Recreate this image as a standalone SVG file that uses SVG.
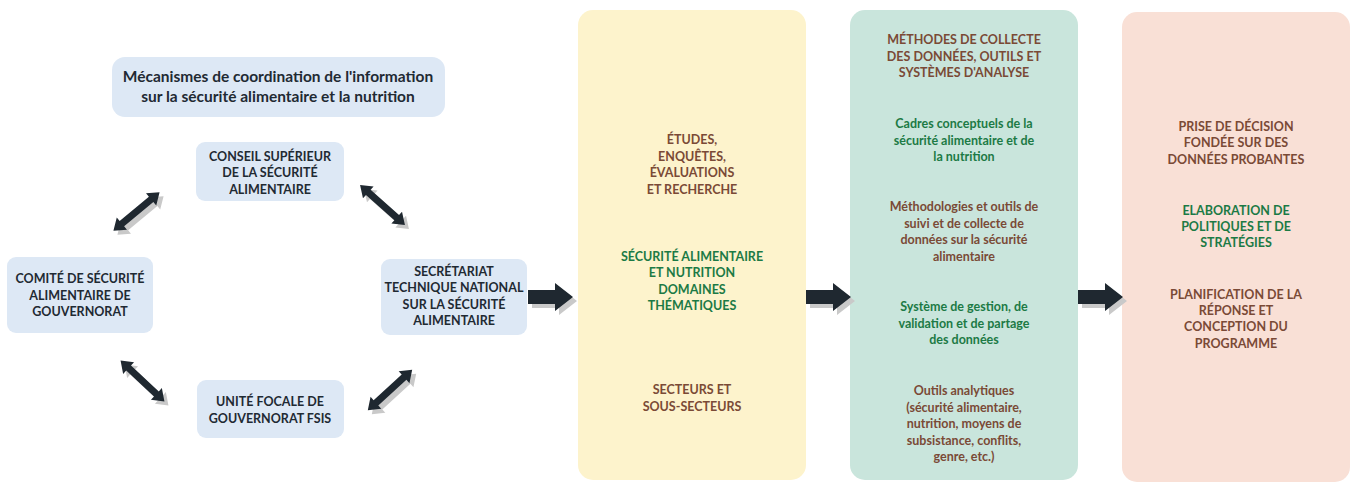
<svg xmlns="http://www.w3.org/2000/svg" width="1355" height="482" viewBox="0 0 1355 482">
<defs>
<style>
text{font-family:Lato,"Source Sans Pro","Liberation Sans",sans-serif;font-weight:bold;text-anchor:middle;font-size:12.5px}
.tt{font-size:15.5px}
.nb{fill:#dde8f5}
.nt{fill:#1f2a33}
.br{fill:#7a4a36}
.gr{fill:#1c7a45}
.ar{fill:#1f2830}
.sh{fill:#c9c9c9}
</style>
<path id="dbl" d="M-30,0 L-19,-8 L-19,-3.5 L19,-3.5 L19,-8 L30,0 L19,8 L19,3.5 L-19,3.5 L-19,8 Z"/>
<path id="big" d="M0,-7 L27,-7 L27,-14 L45,0 L27,14 L27,7 L0,7 Z"/>
</defs>
<rect width="1355" height="482" fill="#ffffff"/>

<g id="title">
<rect class="nb" x="112" y="57" width="333" height="60" rx="13"/>
<text class="nt tt" x="278" y="82">Mécanismes de coordination de l'information</text>
<text class="nt tt" x="278" y="102">sur la sécurité alimentaire et la nutrition</text>
</g>

<g id="conseil">
<rect class="nb" x="196" y="142" width="148" height="59" rx="9"/>
<text class="nt" x="270" y="161">CONSEIL SUPÉRIEUR</text>
<text class="nt" x="270" y="177">DE LA SÉCURITÉ</text>
<text class="nt" x="270" y="194">ALIMENTAIRE</text>
</g>

<g id="comite">
<rect class="nb" x="7" y="257" width="146" height="76" rx="9"/>
<text class="nt" x="80" y="283">COMITÉ DE SÉCURITÉ</text>
<text class="nt" x="80" y="300">ALIMENTAIRE DE</text>
<text class="nt" x="80" y="316">GOUVERNORAT</text>
</g>

<g id="secretariat">
<rect class="nb" x="381" y="259" width="146" height="76" rx="9"/>
<text class="nt" x="454" y="276">SECRÉTARIAT</text>
<text class="nt" x="454" y="292">TECHNIQUE NATIONAL</text>
<text class="nt" x="454" y="309">SUR LA SÉCURITÉ</text>
<text class="nt" x="454" y="325">ALIMENTAIRE</text>
</g>

<g id="unite">
<rect class="nb" x="197" y="380" width="147" height="58" rx="9"/>
<text class="nt" x="270" y="406">UNITÉ FOCALE DE</text>
<text class="nt" x="270" y="423">GOUVERNORAT FSIS</text>
</g>

<g id="etudes">
<rect x="578" y="10" width="228" height="470" rx="15" fill="#fdf3cc"/>
<text class="br" x="692" y="144">ÉTUDES,</text>
<text class="br" x="692" y="161">ENQUÊTES,</text>
<text class="br" x="692" y="177">ÉVALUATIONS</text>
<text class="br" x="692" y="194">ET RECHERCHE</text>
<text class="gr" x="692" y="261">SÉCURITÉ ALIMENTAIRE</text>
<text class="gr" x="692" y="277">ET NUTRITION</text>
<text class="gr" x="692" y="294">DOMAINES</text>
<text class="gr" x="692" y="310">THÉMATIQUES</text>
<text class="br" x="692" y="394">SECTEURS ET</text>
<text class="br" x="692" y="411">SOUS-SECTEURS</text>
</g>

<g id="methodes">
<rect x="850" y="10" width="228" height="470" rx="15" fill="#c9e5dc"/>
<text class="br" x="964" y="44">MÉTHODES DE COLLECTE</text>
<text class="br" x="964" y="61">DES DONNÉES, OUTILS ET</text>
<text class="br" x="964" y="77">SYSTÈMES D'ANALYSE</text>
<text class="gr" x="964" y="128">Cadres conceptuels de la</text>
<text class="gr" x="964" y="145">sécurité alimentaire et de</text>
<text class="gr" x="964" y="161">la nutrition</text>
<text class="br" x="964" y="211">Méthodologies et outils de</text>
<text class="br" x="964" y="228">suivi et de collecte de</text>
<text class="br" x="964" y="244">données sur la sécurité</text>
<text class="br" x="964" y="261">alimentaire</text>
<text class="gr" x="964" y="311">Système de gestion, de</text>
<text class="gr" x="964" y="328">validation et de partage</text>
<text class="gr" x="964" y="344">des données</text>
<text class="br" x="964" y="395">Outils analytiques</text>
<text class="br" x="964" y="412">(sécurité alimentaire,</text>
<text class="br" x="964" y="428">nutrition, moyens de</text>
<text class="br" x="964" y="445">subsistance, conflits,</text>
<text class="br" x="964" y="461">genre, etc.)</text>
</g>

<g id="decision">
<rect x="1122" y="12" width="228" height="470" rx="15" fill="#f9e0d6"/>
<text class="br" x="1236" y="131">PRISE DE DÉCISION</text>
<text class="br" x="1236" y="147">FONDÉE SUR DES</text>
<text class="br" x="1236" y="164">DONNÉES PROBANTES</text>
<text class="gr" x="1236" y="215">ELABORATION DE</text>
<text class="gr" x="1236" y="231">POLITIQUES ET DE</text>
<text class="gr" x="1236" y="247">STRATÉGIES</text>
<text class="br" x="1236" y="299">PLANIFICATION DE LA</text>
<text class="br" x="1236" y="315">RÉPONSE ET</text>
<text class="br" x="1236" y="331">CONCEPTION DU</text>
<text class="br" x="1236" y="348">PROGRAMME</text>
</g>

<g id="connectors">
<g transform="translate(4,4)">
<use href="#dbl" class="sh" transform="translate(136.5,211.5) rotate(-39.7)"/>
<use href="#dbl" class="sh" transform="translate(382.5,205) rotate(41.6)"/>
<use href="#dbl" class="sh" transform="translate(142.5,381) rotate(43)"/>
<use href="#dbl" class="sh" transform="translate(390,390) rotate(-42.3)"/>
<use href="#big" class="sh" transform="translate(528,297)"/>
<use href="#big" class="sh" transform="translate(806,297)"/>
<use href="#big" class="sh" transform="translate(1078,297)"/>
</g>
<use href="#dbl" class="ar" transform="translate(136.5,211.5) rotate(-39.7)"/>
<use href="#dbl" class="ar" transform="translate(382.5,205) rotate(41.6)"/>
<use href="#dbl" class="ar" transform="translate(142.5,381) rotate(43)"/>
<use href="#dbl" class="ar" transform="translate(390,390) rotate(-42.3)"/>
<use href="#big" class="ar" transform="translate(528,297)"/>
<use href="#big" class="ar" transform="translate(806,297)"/>
<use href="#big" class="ar" transform="translate(1078,297)"/>
</g>
</svg>
